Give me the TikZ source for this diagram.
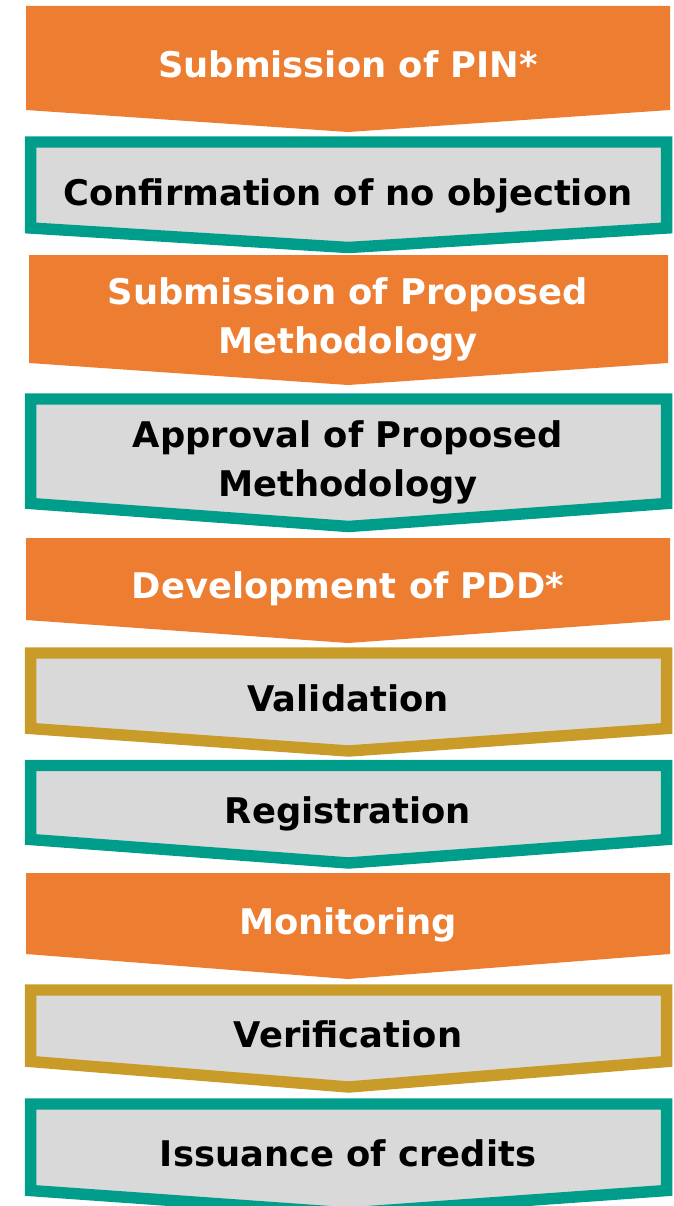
\documentclass[tikz,border=0pt]{standalone}
\usepackage{fontspec}
\setmainfont{DejaVu Sans}
\definecolor{orng}{HTML}{ED7D31}
\definecolor{tealrim}{HTML}{009E8A}
\definecolor{goldrim}{HTML}{C99C2A}
\definecolor{gry}{HTML}{D9D9D9}
\begin{document}
\begin{tikzpicture}[x=0.75pt,y=-0.75pt,
  orangebox/.style={fill=orng},
  rimbox/.style={fill=gry, line width=8.6pt, line join=miter, miter limit=10},
  tealbox/.style={rimbox, draw=tealrim},
  goldbox/.style={rimbox, draw=goldrim},
  lbl/.style={font=\fontsize{26.5}{36.75}\selectfont\bfseries, inner sep=0pt, align=center},
  wlbl/.style={lbl, text=white},
  blbl/.style={lbl, text=black}]
\useasboundingbox (0,0) rectangle (674,1206);
\begin{scope}
\clip (0,0) rectangle (674,1206);
% orange steps
\path[orangebox] (26,6) -- (670,6) -- (670,110) -- (348,132) -- (26,110) -- cycle;
\path[orangebox] (29,255) -- (668,255) -- (668,363) -- (348,385) -- (29,363) -- cycle;
\path[orangebox] (26,538) -- (670,538) -- (670,620) -- (348,643) -- (26,620) -- cycle;
\path[orangebox] (26,873) -- (670,873) -- (670,954) -- (348,979) -- (26,954) -- cycle;
% bordered steps
\path[tealbox] (30.6,142) -- (666.6,142) -- (666.6,228) -- (348.6,247.5) -- (30.6,228) -- cycle;
\path[tealbox] (30.6,399) -- (666.6,399) -- (666.6,503.5) -- (348.6,526.5) -- (30.6,503.5) -- cycle;
\path[goldbox] (30.6,653) -- (666.6,653) -- (666.6,728.5) -- (348.6,751) -- (30.6,728.5) -- cycle;
\path[tealbox] (30.6,765.5) -- (666.6,765.5) -- (666.6,839.5) -- (348.6,863) -- (30.6,839.5) -- cycle;
\path[goldbox] (30.6,990) -- (666.6,990) -- (666.6,1061.5) -- (348.6,1087) -- (30.6,1061.5) -- cycle;
\path[tealbox] (30.6,1104) -- (666.6,1104) -- (666.6,1190.5) -- (348.6,1213) -- (30.6,1190.5) -- cycle;
\end{scope}
% labels
\node[wlbl, anchor=base] (s1) at (348,78) {Submission of PIN*};
\node[blbl, anchor=base] (s2) at (348,205) {Confirmation of no objection};
\node[wlbl, anchor=center] (s3) at (348,319.8) {Submission of Proposed\\Methodology};
\node[blbl, anchor=center] (s4) at (348,462.8) {Approval of Proposed\\Methodology};
\node[wlbl, anchor=base] (s5) at (348,598) {Development of PDD*};
\node[blbl, anchor=base] (s6) at (348,711) {Validation};
\node[blbl, anchor=base] (s7) at (348,823) {Registration};
\node[wlbl, anchor=base] (s8) at (348,934) {Monitoring};
\node[blbl, anchor=base] (s9) at (348,1047) {Verification};
\node[blbl, anchor=base] (s10) at (348,1166) {Issuance of credits};
\end{tikzpicture}
\end{document}
